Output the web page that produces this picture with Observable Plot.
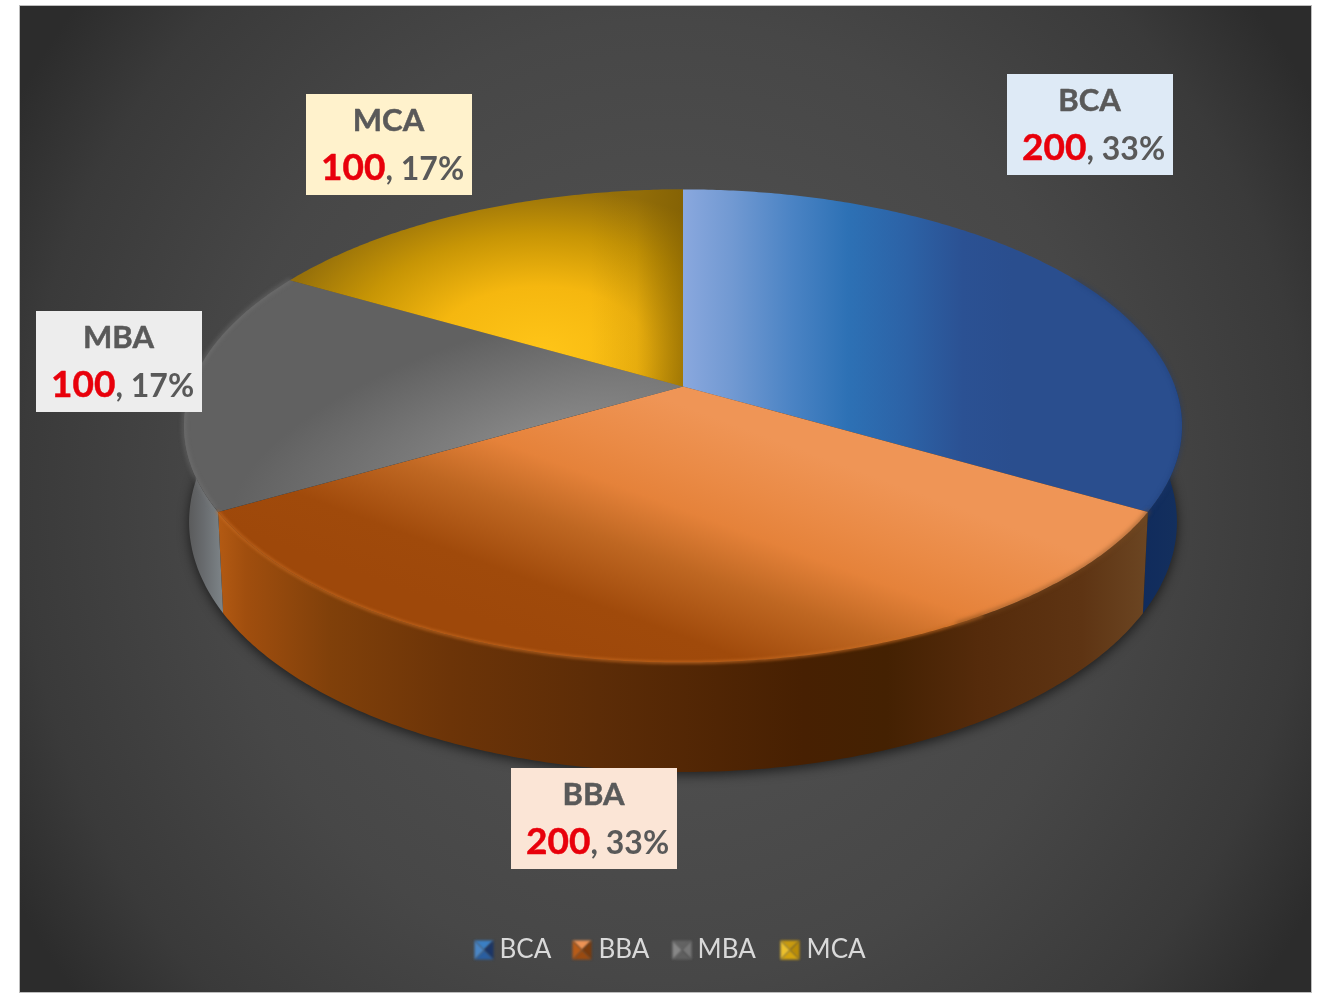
<!DOCTYPE html>
<html>
<head>
<meta charset="utf-8">
<script src="https://cdn.jsdelivr.net/npm/d3@7"></script>
<script src="https://cdn.jsdelivr.net/npm/@observablehq/plot@0.6"></script>
<style>
  html, body { margin: 0; padding: 0; background: #fff; }
  svg { display: block; }
</style>
</head>
<body>
<div id="chart"></div>
<script>
// ---- data ----
const programmes = ["BCA", "BBA", "MBA", "MCA"];
const students = [200, 200, 100, 100];

// ---- styles and layout ----
const boxFills = ["#deeaf6", "#fbe5d6", "#ededed", "#fff2cc"];
const boxLeft = [1007, 511, 36, 306];
const boxTop = [74, 768, 311, 94];
const boxSize = [166, 101];
const legendSwatchLeft = [474, 572, 672, 780];
const legendTextLeft = [499, 598, 697, 806];
const swatchShades = [
  ["#3b7fc4", "#1b3566", "#2a5ea0", "#4a86c5"],
  ["#ed9355", "#7a3a0c", "#9a4a10", "#b85c18"],
  ["#636363", "#777777", "#5f5f5f", "#888888"],
  ["#c89a10", "#b98c08", "#d4a40e", "#ecc02c"]
];
const W = 1319, H = 995;
const apex = {x: 682.5, y: 386};
const persp = {A: 492, B: 230, k: 0.167, depth: 95, m: 0.01};

const total = d3.sum(students);
const slices = d3.pie().sort(null).startAngle(0).endAngle(2 * Math.PI)(students);

// the round pie seen in perspective: angle clockwise from the top, z = 0 top face, 1 bottom face
function project(theta, z = 0, r = 1) {
  const u = r * Math.sin(theta), v = r * Math.cos(theta);
  const w = 1 + persp.k * v + persp.m * z;
  return {x: apex.x + persp.A * u / w, y: apex.y - (persp.B * v - persp.depth * z) / w};
}
function rim(a0, a1, z = 0) {
  const n = Math.max(2, Math.ceil(Math.abs(a1 - a0) / 0.01));
  return d3.range(n + 1).map(i => project(a0 + (a1 - a0) * i / n, z));
}
const poly = (pts, fill, extra = {}) => Plot.line(pts, {x: "x", y: "y", fill, stroke: "none", ...extra});
const deg = d => d * Math.PI / 180;

const sliceFace = s => [project(0, 0, 0), ...rim(s.startAngle, s.endAngle)];
function wall(s) {
  const a0 = Math.max(s.startAngle, deg(90)), a1 = Math.min(s.endAngle, deg(270));
  if (a1 <= a0) return [];
  return [...rim(a0, a1), ...rim(a1, a0, 1)];
}
const textBlur = "blur(0.5px)";

const marks = [
  Plot.frame({fill: "url(#bg)", stroke: "#bdbdbd", insetLeft: 19, insetTop: 5, insetRight: 8, insetBottom: 3}),
  // soft shadow under the pie
  poly(rim(deg(70), deg(290), 1).map(p => ({x: p.x, y: p.y + 3})), "#000", {fillOpacity: 0.6, imageFilter: "blur(6px)"}),
  // side walls
  ...slices.map((s, i) => ({s, i})).filter(({s}) => wall(s).length).map(({s, i}) =>
    poly(wall(s), `url(#wall${i})`)),
  // top faces
  ...slices.map((s, i) => poly(sliceFace(s), `url(#top${i})`)),
  poly(sliceFace(slices[3]), "url(#top3shade)"),
  // rim shading
  Plot.line(rim(slices[1].startAngle + 0.5, slices[1].endAngle), {x: "x", y: "y", stroke: "#c96c22", strokeWidth: 3, strokeOpacity: 0.7, imageFilter: "blur(1.5px)"}),
  Plot.line(rim(slices[1].startAngle, slices[1].startAngle + 0.55), {x: "x", y: "y", stroke: "#7a4a20", strokeWidth: 4, strokeOpacity: 0.55, imageFilter: "blur(2px)"}),
  Plot.line(rim(slices[2].startAngle + 0.02, slices[2].endAngle), {x: "x", y: "y", stroke: "#7b7b7b", strokeWidth: 3, strokeOpacity: 0.55, imageFilter: "blur(2px)"}),
  Plot.line(rim(deg(60), slices[0].endAngle), {x: "x", y: "y", stroke: "#1c3a70", strokeWidth: 3, strokeOpacity: 0.45, imageFilter: "blur(2px)"}),
  // data-label boxes and texts
  Plot.rect(programmes.map((p, i) => i), {
    x1: i => boxLeft[i], x2: i => boxLeft[i] + boxSize[0],
    y1: i => boxTop[i], y2: i => boxTop[i] + boxSize[1],
    fill: i => boxFills[i]
  }),
  Plot.text(programmes, {
    x: (d, i) => boxLeft[i] + boxSize[0] / 2 - 1, y: (d, i) => boxTop[i] + 27,
    text: d => d, fontFamily: "Lato", fontWeight: 700, fontSize: 31, fill: "#595959", stroke: "#595959", strokeWidth: 0.5, imageFilter: textBlur
  }),
  Plot.text(students, {
    x: (d, i) => boxLeft[i] + 79, y: (d, i) => boxTop[i] + 74,
    text: d => String(d), textAnchor: "end", fontFamily: "Lato", fontWeight: 700, fontSize: 37, fill: "#e8000b", stroke: "#e8000b", strokeWidth: 0.5, imageFilter: textBlur
  }),
  Plot.text(students, {
    x: (d, i) => boxLeft[i] + 79, y: (d, i) => boxTop[i] + 75,
    text: d => `, ${Math.round(d / total * 100)}%`, textAnchor: "start", fontFamily: "Lato", fontWeight: 700, fontSize: 32, fill: "#595959", imageFilter: textBlur
  }),
  // legend
  ...programmes.flatMap((p, i) => {
    const l = legendSwatchLeft[i], t = 940, e = 19, c = {x: l + e / 2, y: t + e / 2};
    const corners = [{x: l, y: t}, {x: l + e, y: t}, {x: l + e, y: t + e}, {x: l, y: t + e}];
    return corners.map((p0, j) =>
      poly([p0, corners[(j + 1) % 4], c], swatchShades[i][j], {imageFilter: "blur(0.8px)"}));
  }),
  Plot.text(programmes, {
    x: (d, i) => legendTextLeft[i], y: () => 949,
    text: d => d, textAnchor: "start", fontFamily: "Lato", fontSize: 26, fill: "#d9d9d9", imageFilter: textBlur
  })
];

const svg = Plot.plot({
  width: W, height: H,
  margin: 0,
  x: {domain: [0, W], range: [0, W], axis: null},
  y: {domain: [0, H], range: [0, H], axis: null},
  style: {background: "#fff"},
  marks
});

// ---- gradients used by the marks ----
const defs = d3.select(svg).insert("defs", ":first-child");
const addStops = (g, stops) => stops.forEach(([o, c, a = 1]) =>
  g.append("stop").attr("offset", o).attr("stop-color", c).attr("stop-opacity", a));
function linear(id, [x1, y1, x2, y2], stops) {
  addStops(defs.append("linearGradient").attr("id", id).attr("gradientUnits", "userSpaceOnUse")
    .attr("x1", x1).attr("y1", y1).attr("x2", x2).attr("y2", y2), stops);
}
function radial(id, transform, stops) {
  addStops(defs.append("radialGradient").attr("id", id).attr("gradientUnits", "userSpaceOnUse")
    .attr("cx", 0).attr("cy", 0).attr("r", 1).attr("gradientTransform", transform), stops);
}
radial("bg", "translate(665,500) scale(750,800)", [[0, "#555555"], [0.6, "#474747"], [0.86, "#3a3a3a"], [1, "#2c2c2c"]]);
linear("top0", [682, 0, 1183, 0], [[0, "#8aa8de"], [0.1, "#7199d2"], [0.22, "#4a83c4"], [0.33, "#2d71b5"], [0.45, "#2c62a6"], [0.56, "#2b5193"], [0.66, "#2a4e8e"], [1, "#2a4e8e"]]);
linear("top1", [653, 683, 747, 429], [[0, "#9e480a"], [0.2, "#a04a0b"], [0.44, "#bf6722"], [0.64, "#e5823a"], [0.78, "#ea8a45"], [1, "#ef9556"]]);
radial("top2", "translate(550,445) rotate(-15) scale(330,125)", [[0, "#8d8d8d"], [0.55, "#757575"], [1, "#616161"]]);
radial("top3", "translate(540,352) scale(270,165)", [[0, "#ffc518"], [0.4, "#f5b70f"], [0.72, "#c79505"], [1, "#96700a"]]);
linear("top3shade", [590, 0, 682, 0], [[0, "#7a5a00", 0], [0.5, "#7a5a00", 0.12], [1, "#7a5a00", 0.6]]);
linear("wall0", [1130, 0, 1183, 0], [[0, "#0f2a5c"], [1, "#14305e"]]);
linear("wall1", [218, 0, 1146, 0], [[0, "#b35a13"], [0.03, "#a04e0e"], [0.12, "#80400a"], [0.25, "#6c3408"], [0.41, "#5c2c07"], [0.63, "#472002"], [0.72, "#442102"], [0.82, "#552b0b"], [0.93, "#5e3413"], [1, "#6b4522"]]);
linear("wall2", [184, 0, 222, 0], [[0, "#565656"], [0.5, "#686b6e"], [1, "#7d8488"]]);

document.getElementById("chart").append(svg);
</script>
</body>
</html>
